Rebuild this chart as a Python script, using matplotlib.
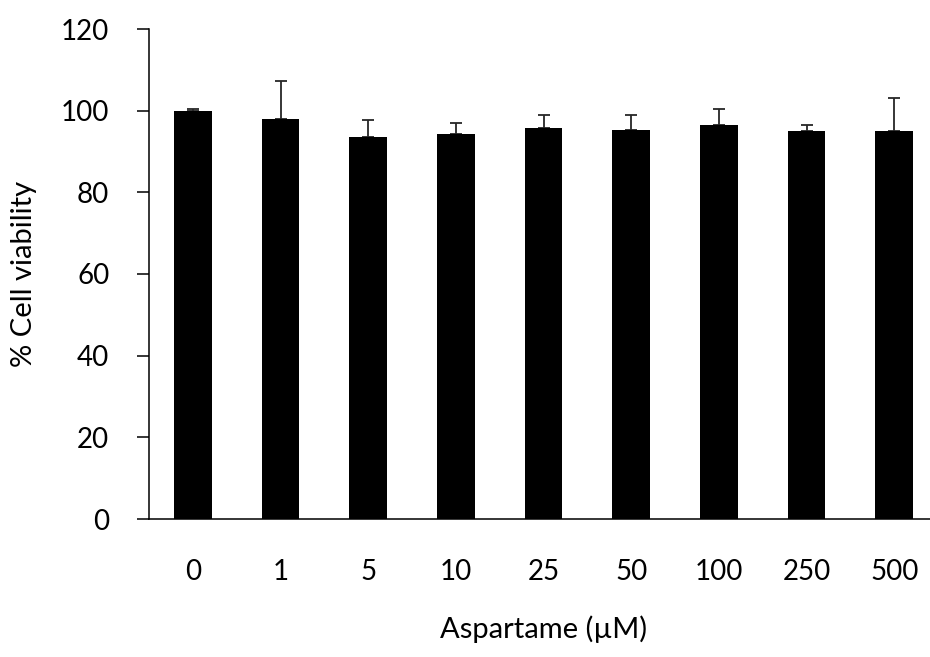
import matplotlib
matplotlib.use("Agg")
import matplotlib.pyplot as plt
import numpy as np

categories = ["0", "1", "5", "10", "25", "50", "100", "250", "500"]
viability = [100.0, 97.9, 93.5, 94.4, 95.8, 95.2, 96.5, 95.1, 95.1]
sd = [0.3, 9.3, 4.3, 2.5, 3.2, 3.8, 3.9, 1.3, 8.0]
yticks = [0, 20, 40, 60, 80, 100, 120]

plt.rcParams['font.family'] = ['Lato', 'DejaVu Sans']

W, H = 930, 657
fig = plt.figure(figsize=(W / 100, H / 100), dpi=100)
ax = fig.add_axes([149 / W, (H - 519) / H, (938 - 149) / W, (519 - 29) / H])

x = np.arange(len(categories))
ax.bar(x, viability, width=0.43, color='black', edgecolor='none', zorder=2)
ax.errorbar(x, viability, yerr=[np.zeros(len(sd)), sd], fmt='none',
            ecolor='#262626', elinewidth=1.3, capsize=4.3, capthick=1.3, zorder=1.5)

ax.set_xlim(-0.5, len(categories) - 0.5)
ax.set_ylim(0, 120)
ax.set_yticks(yticks)
ax.set_xticks(x)
ax.set_xticklabels(categories)

for s in ['top', 'right']:
    ax.spines[s].set_visible(False)
for s in ['left', 'bottom']:
    ax.spines[s].set_linewidth(1.1)
    ax.spines[s].set_color('black')

ax.tick_params(axis='y', direction='out', length=8.6, width=1.1, pad=20,
               labelsize=20, colors='black')
ax.tick_params(axis='x', length=0, pad=29, labelsize=20, colors='black')

ax.set_ylabel('% Cell viability', fontsize=21, labelpad=17, color='black')
ax.set_xlabel('Aspartame (µM)', fontsize=21, labelpad=22, color='black')

fig.savefig('out.png', dpi=100)
